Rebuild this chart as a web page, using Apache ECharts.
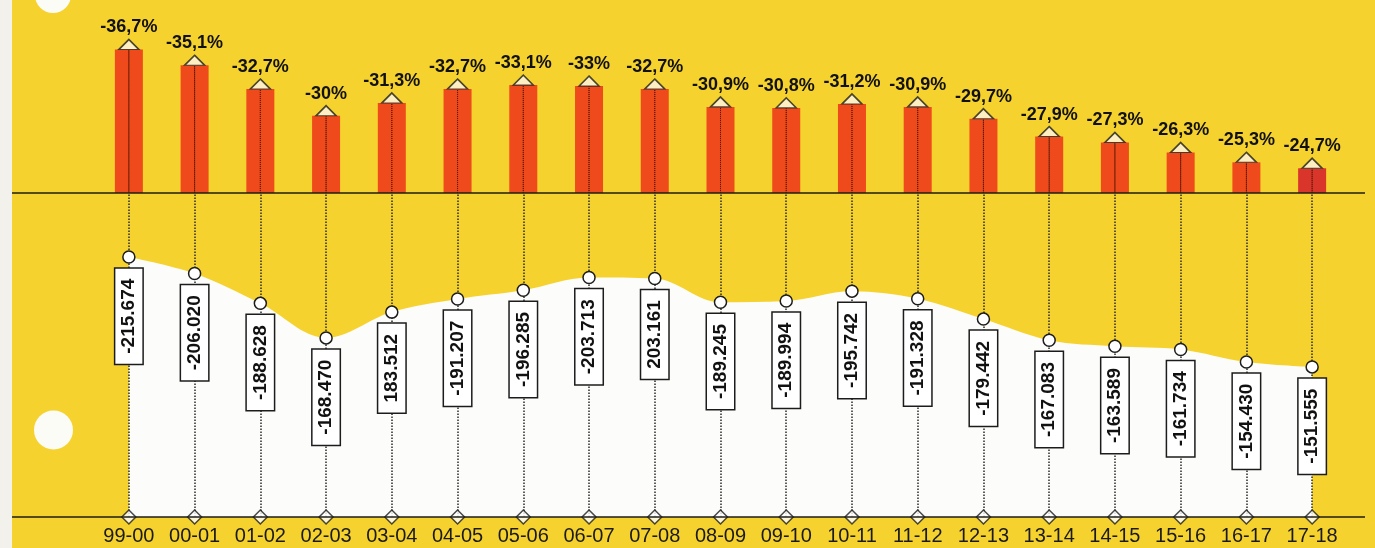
<!DOCTYPE html>
<html>
<head>
<meta charset="utf-8">
<script src="https://cdn.jsdelivr.net/npm/echarts@6/dist/echarts.min.js"></script>
<style>
html,body{margin:0;padding:0;background:#F6D22E;}
#chart{width:1375px;height:548px;}
</style>
</head>
<body>
<div id="chart"></div>
<script>
const categories = ['99-00','00-01','01-02','02-03','03-04','04-05','05-06','06-07','07-08','08-09','09-10','10-11','11-12','12-13','13-14','14-15','15-16','16-17','17-18'];
const changePct = [-36.7,-35.1,-32.7,-30,-31.3,-32.7,-33.1,-33,-32.7,-30.9,-30.8,-31.2,-30.9,-29.7,-27.9,-27.3,-26.3,-25.3,-24.7];
const totals = [-215674,-206020,-188628,-168470,-183512,-191207,-196285,-203713,-203161,-189245,-189994,-195742,-191328,-179442,-167083,-163589,-161734,-154430,-151555];
const totalLabels = ['-215.674','-206.020','-188.628','-168.470','183.512','-191.207','-196.285','-203.713','203.161','-189.245','-189.994','-195.742','-191.328','-179.442','-167.083','-163.589','-161.734','-154.430','-151.555'];

const pctAxis = {min: -41.7, max: -22.2};
const totalAxis = {min: -253000, max: -64000};

const ink = '#1c1c1c';
const barColor = '#EF4A1B';
const lastBarColor = '#D9352A';

const chart = echarts.init(document.getElementById('chart'), null, {renderer: 'canvas'});

const barData = changePct.map((v, i) => i === changePct.length - 1
  ? {value: v, itemStyle: {color: lastBarColor}} : v);

const option = {
  animation: false,
  backgroundColor: '#F6D22E',
  graphic: [
    {type: 'rect', shape: {x: 0, y: 0, width: 12, height: 548}, style: {fill: '#F2F1EC'}, z: 0},
    {type: 'circle', shape: {cx: 53, cy: -5, r: 18}, style: {fill: '#FCFCF6'}, z: 0},
    {type: 'circle', shape: {cx: 53.5, cy: 430, r: 19.5}, style: {fill: '#FCFCF6'}, z: 0},
    {type: 'line', shape: {x1: 12, y1: 193, x2: 1365, y2: 193}, style: {stroke: ink, lineWidth: 1.5}, z: 10},
    {type: 'line', shape: {x1: 12, y1: 517, x2: 1365, y2: 517}, style: {stroke: ink, lineWidth: 1.5}, z: 10}
  ],
  grid: [
    {left: 96, right: 30, top: 0, height: 193},
    {left: 96, right: 30, top: 193, height: 324}
  ],
  xAxis: [
    {type: 'category', gridIndex: 0, data: categories, axisLine: {show: false}, axisTick: {show: false}, axisLabel: {show: false}},
    {type: 'category', gridIndex: 0, data: categories, show: false},
    {type: 'category', gridIndex: 1, data: categories, z: 3,
      axisLine: {show: false},
      axisTick: {show: true, interval: 0, alignWithLabel: true, inside: true, length: 324,
        lineStyle: {type: 'dotted', color: '#2a2a2a', width: 1.5}},
      axisLabel: {interval: 0, fontFamily: 'Liberation Sans, Arial, sans-serif', fontSize: 20, color: '#1a1a1a', margin: 9}}
  ],
  yAxis: [
    {type: 'value', gridIndex: 0, inverse: true, min: pctAxis.min, max: pctAxis.max, show: false},
    {type: 'value', gridIndex: 1, inverse: true, min: totalAxis.min, max: totalAxis.max, show: false}
  ],
  series: [
    {
      type: 'bar', xAxisIndex: 0, yAxisIndex: 0, data: barData, barWidth: 28, z: 2,
      itemStyle: {color: barColor},
      label: {show: true, position: 'top', distance: 13,
        fontFamily: 'Liberation Sans, Arial, sans-serif', fontWeight: 'bold', fontSize: 18, color: '#111',
        formatter: p => String(p.value).replace('.', ',') + '%'},
      emphasis: {disabled: true}
    },
    {
      type: 'bar', xAxisIndex: 1, yAxisIndex: 0, data: changePct, barWidth: 1, z: 3,
      itemStyle: {color: 'rgba(0,0,0,0)', borderColor: '#5a1a08', borderWidth: 1, borderType: 'dotted'},
      emphasis: {disabled: true}, silent: true
    },
    {
      type: 'scatter', xAxisIndex: 0, yAxisIndex: 0, data: changePct, clip: false, z: 4,
      symbol: 'triangle', symbolSize: [20, 10], symbolOffset: [0, -5],
      itemStyle: {color: '#FFF6E6', borderColor: ink, borderWidth: 1.5},
      emphasis: {disabled: true}
    },
    {
      type: 'line', xAxisIndex: 2, yAxisIndex: 1, data: totals, smooth: 0.35, z: 1,
      symbol: 'none', lineStyle: {width: 0},
      areaStyle: {color: '#FCFCFA', opacity: 1},
      emphasis: {disabled: true}
    },
    {
      type: 'line', xAxisIndex: 2, yAxisIndex: 1, data: totals, z: 5,
      symbol: 'circle', symbolSize: 12, lineStyle: {width: 0, opacity: 0},
      itemStyle: {color: '#ffffff', borderColor: ink, borderWidth: 1.5},
      label: {show: true, position: 'bottom', distance: 5, rotate: 90, align: 'right', verticalAlign: 'middle',
        fontFamily: 'Liberation Sans, Arial, sans-serif', fontWeight: 'bold', fontSize: 19,
        lineHeight: 21, color: '#111',
        backgroundColor: '#ffffff', borderColor: ink, borderWidth: 1.5, padding: [3, 10, 3, 10],
        formatter: p => totalLabels[p.dataIndex]},
      emphasis: {disabled: true}
    },
    {
      type: 'scatter', xAxisIndex: 2, yAxisIndex: 1, data: categories.map(() => totalAxis.max), clip: false, z: 6,
      symbol: 'diamond', symbolSize: [14, 14],
      itemStyle: {color: '#ffffff', borderColor: ink, borderWidth: 1.5},
      emphasis: {disabled: true}
    }
  ]
};
chart.setOption(option);
</script>
</body>
</html>
